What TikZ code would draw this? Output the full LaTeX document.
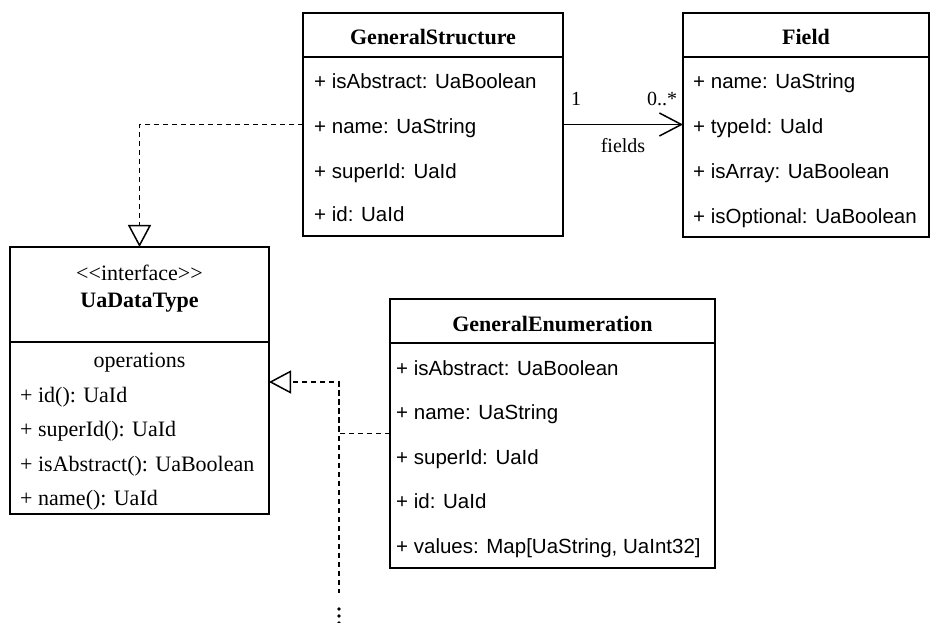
\documentclass[tikz,border=0pt]{standalone}
\usepackage{fontspec}
\setmainfont{Liberation Serif}
\setsansfont{Liberation Sans}
\usetikzlibrary{arrows.meta}

\tikzset{
  umlbox/.style 2 args={draw, line width=1.5pt, anchor=north west, inner sep=0pt,
    outer sep=0pt, minimum width=#1pt, minimum height=#2pt},
  divider/.style={line width=1.5pt},
  classname/.style={font=\fontsize{22}{26}\selectfont\bfseries, anchor=base, inner sep=0pt},
  stereo/.style={font=\fontsize{22}{26}\selectfont, anchor=base, inner sep=0pt},
  attr/.style={font=\sffamily\fontsize{20.5}{24}\selectfont, anchor=base west, inner sep=0pt},
  oper/.style={font=\fontsize{22}{26}\selectfont, anchor=base west, inner sep=0pt},
  rolelabel/.style={font=\fontsize{20}{24}\selectfont, anchor=base, inner sep=0pt},
  dashline/.style={line width=1.6pt, dash pattern=on 5pt off 4pt},
  realize/.style={dashline, -{Triangle[open, length=22pt, width=23pt, line width=1.5pt]}},
  assoc/.style={line width=1.5pt, -{Straight Barb[length=22pt, width=23pt, line width=1.5pt]}},
}

\begin{document}
\begin{tikzpicture}[x=1pt, y=-1pt]
  \useasboundingbox (0,0) rectangle (930,623);

  % GeneralStructure
  \node[umlbox={260}{223}] (gs) at (303,13) {};
  \draw[divider] ([yshift=-44pt]gs.north west) -- ([yshift=-44pt]gs.north east);
  \node[classname] (gstitle) at (433,45) {GeneralStructure};
  \node[attr] (gs1) at (314,89) {+ isAbstract: UaBoolean};
  \node[attr] (gs2) at (314,134) {+ name: UaString};
  \node[attr] (gs3) at (314,179) {+ superId: UaId};
  \node[attr] (gs4) at (314,222) {+ id: UaId};

  % Field
  \node[umlbox={246}{224}] (field) at (683,13) {};
  \draw[divider] ([yshift=-44pt]field.north west) -- ([yshift=-44pt]field.north east);
  \node[classname] (fieldtitle) at (806,45) {Field};
  \node[attr] (f1) at (693,89) {+ name: UaString};
  \node[attr] (f2) at (693,134) {+ typeId: UaId};
  \node[attr] (f3) at (693,179) {+ isArray: UaBoolean};
  \node[attr] (f4) at (693,223) {+ isOptional: UaBoolean};

  % UaDataType interface
  \node[umlbox={259}{267}] (uadt) at (10,247) {};
  \draw[divider] ([yshift=-95pt]uadt.north west) -- ([yshift=-95pt]uadt.north east);
  \node[stereo] (uadtstereo) at (139.5,280) {<\kern0pt<interface>\kern0pt>};
  \node[classname] (uadttitle) at (139.5,307) {UaDataType};
  \node[stereo] (uadtops) at (139.5,367) {operations};
  \node[oper] (o1) at (20,402) {+ id(): UaId};
  \node[oper] (o2) at (20,436) {+ superId(): UaId};
  \node[oper] (o3) at (20,471) {+ isAbstract(): UaBoolean};
  \node[oper] (o4) at (20,505) {+ name(): UaId};

  % GeneralEnumeration
  \node[umlbox={325}{269}] (ge) at (390,299) {};
  \draw[divider] ([yshift=-44pt]ge.north west) -- ([yshift=-44pt]ge.north east);
  \node[classname] (getitle) at (552.5,331) {GeneralEnumeration};
  \node[attr] (e1) at (396,375) {+ isAbstract: UaBoolean};
  \node[attr] (e2) at (396,419) {+ name: UaString};
  \node[attr] (e3) at (396,464) {+ superId: UaId};
  \node[attr] (e4) at (396,508) {+ id: UaId};
  \node[attr] (e5) at (396,553) {+ values: Map[UaString, UaInt32]};

  % association GeneralStructure -> Field
  \draw[assoc] (gs.east) -- (gs.east -| field.west);
  \node[rolelabel] (mult1) at (576,106) {1};
  \node[rolelabel] (multn) at (662,106) {0..*};
  \node[rolelabel] (role) at (623,153) {fields};

  % realizations of UaDataType
  \draw[realize] (gs.west) -| (uadt.north);
  \coordinate (bend) at (339,382);
  \coordinate (tail) at (339,593);
  \draw[realize] (ge.west) -| (bend) -- (bend -| uadt.east);
  \draw[dashline] (bend) -- (tail);
  \foreach \yy in {609,616,623}
    \fill (339,\yy) circle (1.8pt);
\end{tikzpicture}
\end{document}
